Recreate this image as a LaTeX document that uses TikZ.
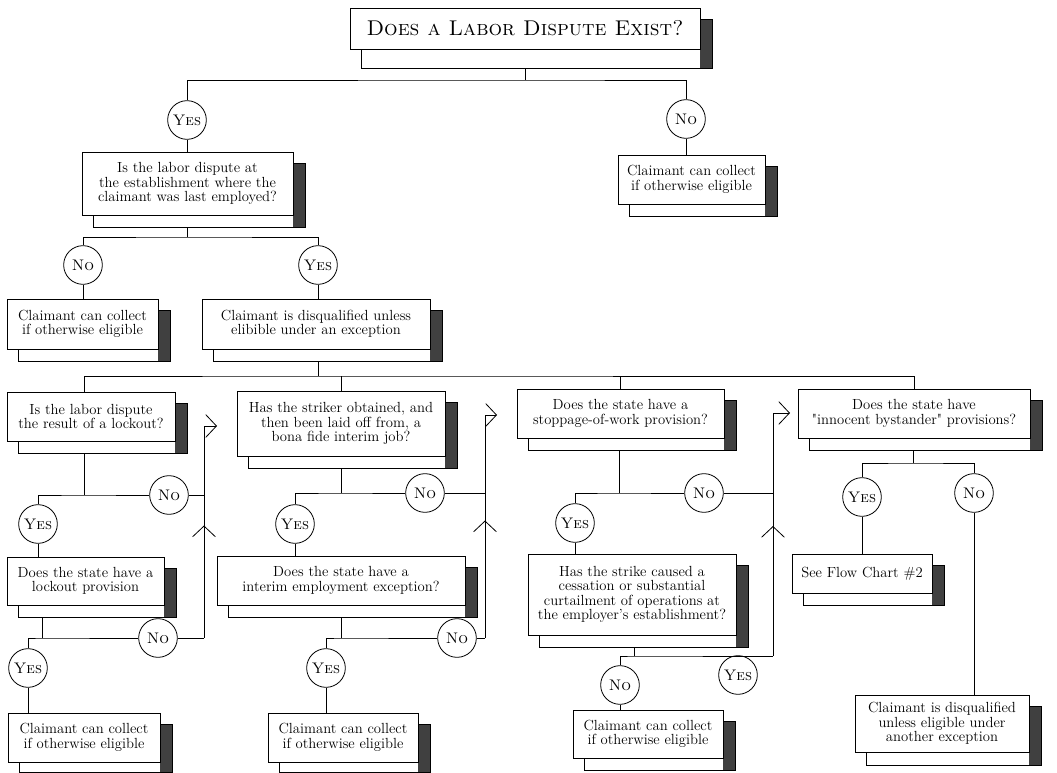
\documentclass[tikz,border=0pt]{standalone}
\usetikzlibrary{arrows.meta, positioning, backgrounds, decorations.markings}

\tikzset{
  card/.style={draw, fill=white, align=center, inner sep=2pt, font=\fontsize{11}{10.8}\selectfont},
  ans/.style={circle, draw, fill=white, inner sep=0pt, minimum size=29pt, font=\fontsize{11.5}{11.5}\selectfont},
  sz/.style 2 args={minimum width=#1*0.75pt, minimum height=#2*0.75pt},
  goback/.style={-{Straight Barb[length=8pt,width=17pt]}, postaction={decorate},
    decoration={markings, mark=at position 0.5 with {\arrow{Straight Barb[length=8pt,width=17pt]}}}}
}

\begin{document}
\begin{tikzpicture}[x=0.75pt, y=-0.75pt, line width=0.6pt]
\useasboundingbox (0,0) rectangle (1057,773);

\node[card, sz={350}{41}, font=\fontsize{16}{16}\selectfont] (title) at (525,28.5) {\textsc{Does a Labor Dispute Exist?}};

% first answer
\node[ans] (yes0) at (187,120) {\textsc{Yes}};
\node[ans] (no0)  at (686,119) {\textsc{No}};
\node[card, sz={211}{63}] (where)    at (187.5,183.5) {Is the labor dispute at\\the establishment where the\\claimant was last employed?};
\node[card, sz={147}{49}] (collect0) at (691.5,179.5) {Claimant can collect\\if otherwise eligible};

\node[ans] (no1)  at (83,265)  {\textsc{No}};
\node[ans] (yes1) at (318,265) {\textsc{Yes}};
\node[card, sz={151}{50}] (collect1) at (82.5,324) {Claimant can collect\\if otherwise eligible};
\node[card, sz={228}{50}] (disq)     at (316,324)  {Claimant is disqualified unless\\elibible under an exception};

% the four exceptions
\node[card, sz={168}{49}] (lockout)   at (91,416.5)  {Is the labor dispute\\the result of a lockout?};
\node[card, sz={208}{65}] (interim)   at (341,423.5) {Has the striker obtained, and\\then been laid off from, a\\bona fide interim job?};
\node[card, sz={207}{49}] (stoppage)  at (620.5,413.5) {Does the state have a\\stoppage-of-work provision?};
\node[card, sz={232}{49}] (bystander) at (914,413.5) {Does the state have\\\textquotedbl innocent bystander\textquotedbl{} provisions?};

\node[ans] (yesA) at (38,524)  {\textsc{Yes}};
\node[ans] (noA)  at (169,495) {\textsc{No}};
\node[ans] (yesB) at (295,524) {\textsc{Yes}};
\node[ans] (noB)  at (425,493) {\textsc{No}};
\node[ans] (yesC) at (575,523) {\textsc{Yes}};
\node[ans] (noC)  at (704,493) {\textsc{No}};
\node[ans] (yesD) at (862,497) {\textsc{Yes}};
\node[ans] (noD)  at (974,493) {\textsc{No}};

\node[card, sz={157}{48}] (lockprov)   at (85.5,581)  {Does the state have a\\lockout provision};
\node[card, sz={248}{49}] (interimexc) at (341,580.5)  {Does the state have a\\interim employment exception?};
\node[card, sz={208}{81}] (cessation)  at (632,594.5)  {Has the strike caused a\\cessation or substantial\\curtailment of operations at\\the employer's establishment?};
\node[card, sz={140}{39}] (flowchart)  at (862,573.5)  {See Flow Chart \#2};

\node[ans] (yesA2) at (28,668)  {\textsc{Yes}};
\node[ans] (noA2)  at (158,638) {\textsc{No}};
\node[ans] (yesB2) at (326,668) {\textsc{Yes}};
\node[ans] (noB2)  at (457,638) {\textsc{No}};
\node[ans] (noC2)  at (620,685) {\textsc{No}};
\node[ans] (yesC2) at (738,675) {\textsc{Yes}};

\node[card, sz={152}{49}] (collectA) at (84,737.5) {Claimant can collect\\if otherwise eligible};
\node[card, sz={150}{49}] (collectB) at (343,737.5) {Claimant can collect\\if otherwise eligible};
\node[card, sz={150}{48}] (collectC) at (648,734)   {Claimant can collect\\if otherwise eligible};
\node[card, sz={174}{57}] (disqD)    at (942,723.5) {Claimant is disqualified\\unless eligible under\\another exception};

% junctions
\coordinate (j0) at (525,80);
\coordinate (j1) at (187,237);
\coordinate (j2) at (318,376);
\coordinate (jA) at (84,376);
\coordinate (kA) at (84,495);
\coordinate (kA2) at (42,638);
\coordinate (sA) at (204,638);
\coordinate (tA) at (217,426);
\coordinate (kB) at (341,493);
\coordinate (kB2) at (341,638);
\coordinate (sB) at (485,638);
\coordinate (tB) at (497,415);
\coordinate (kC) at (619,493);
\coordinate (kC2) at (634,656);
\coordinate (sC) at (773,656);
\coordinate (tC) at (790,413);
\coordinate (kD) at (913,463);

\draw (j0 |- title.south) ++(0,19) -- (j0);
\draw (yes0) |- (j0) -| (no0);
\draw (yes0) -- (yes0 |- where.north);
\draw (no0) -- (no0 |- collect0.north);

\draw (j1 |- where.south) ++(0,12) -- (j1);
\draw (no1) |- (j1) -| (yes1);
\draw (no1) -- (no1 |- collect1.north);
\draw (yes1) -- (yes1 |- disq.north);

\draw (j2 |- disq.south) ++(0,12) -- (j2);
\draw (jA |- lockout.north) |- (j2) -| (bystander.north);
\draw (interim.north) -- (interim.north |- j2);
\draw (stoppage.north) -- (stoppage.north |- j2);

% lockout column
\draw (kA |- lockout.south) ++(0,12) -- (kA);
\draw (yesA) |- (kA) -- (noA) -- (noA -| sA);
\draw[goback] (sA) |- (tA);
\draw (yesA) -- (yesA |- lockprov.north);
\draw (kA2 |- lockprov.south) ++(0,12) -- (kA2);
\draw (yesA2) |- (kA2) -- (noA2) -- (sA);
\draw (yesA2) -- (yesA2 |- collectA.north);

% interim job column
\draw (kB |- interim.south) ++(0,12) -- (kB);
\draw (yesB) |- (kB) -- (noB) -- (noB -| sB);
\draw[goback] (sB) |- (tB);
\draw (yesB) -- (yesB |- interimexc.north);
\draw (kB2 |- interimexc.south) ++(0,12) -- (kB2);
\draw (yesB2) |- (kB2) -- (noB2) -- (sB);
\draw (yesB2) -- (yesB2 |- collectB.north);

% stoppage column
\draw (kC |- stoppage.south) ++(0,12) -- (kC);
\draw (yesC) |- (kC) -- (noC) -- (noC -| sC);
\draw[goback] (sC) |- (tC);
\draw (yesC) -- (yesC |- cessation.north);
\draw (kC2 |- cessation.south) ++(0,12) -- (kC2);
\draw (noC2) |- (kC2) -- (sC);
\draw (noC2) -- (noC2 |- collectC.north);

% bystander column
\draw (kD |- bystander.south) ++(0,12) -- (kD);
\draw (yesD) |- (kD) -| (noD);
\draw (yesD) -- (yesD |- flowchart.north);
\draw (noD) -- (noD |- disqD.north);

% shadows behind the boxes
\begin{pgfonlayer}{background}
\foreach \n/\dy in {title/19, where/12, collect0/12, collect1/12, disq/12,
  lockout/12, interim/12, stoppage/12, bystander/12, lockprov/12, interimexc/12,
  cessation/12, flowchart/12, collectA/10, collectB/10, collectC/12, disqD/13}
{
  \draw[fill=white] ([shift={(12,\dy)}]\n.south west) rectangle ([shift={(12,12)}]\n.north east);
  \fill[black!75] ([shift={(0,12)}]\n.north east) rectangle ([shift={(12,\dy)}]\n.south east);
}
\end{pgfonlayer}
\end{tikzpicture}
\end{document}
